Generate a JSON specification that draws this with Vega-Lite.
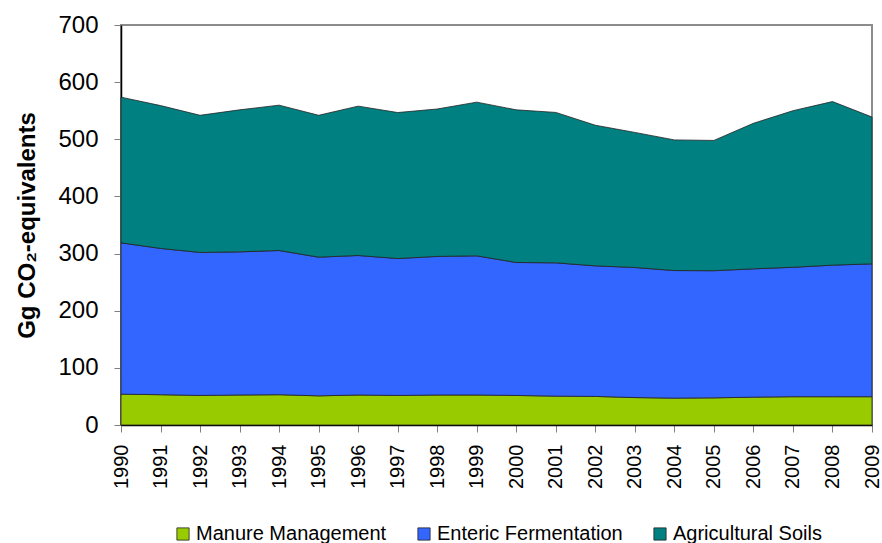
{
  "$schema": "https://vega.github.io/schema/vega-lite/v6.json",
  "width": 751,
  "height": 400,
  "autosize": "none",
  "padding": {"left": 121, "top": 25, "right": 10, "bottom": 118},
  "config": {
    "font": "Liberation Sans",
    "view": {"stroke": "#8c8c8c", "strokeWidth": 2},
    "axis": {"grid": false, "domainColor": "#000000", "domainWidth": 1.5, "tickColor": "#808080", "labelColor": "#000000", "titleColor": "#000000"}
  },
  "data": {
    "values": [
      {"year": 1990, "source": "Manure Management", "o": 1, "v": 54},
      {"year": 1991, "source": "Manure Management", "o": 1, "v": 53},
      {"year": 1992, "source": "Manure Management", "o": 1, "v": 51.7},
      {"year": 1993, "source": "Manure Management", "o": 1, "v": 52.5},
      {"year": 1994, "source": "Manure Management", "o": 1, "v": 53},
      {"year": 1995, "source": "Manure Management", "o": 1, "v": 51},
      {"year": 1996, "source": "Manure Management", "o": 1, "v": 52.5},
      {"year": 1997, "source": "Manure Management", "o": 1, "v": 51.7},
      {"year": 1998, "source": "Manure Management", "o": 1, "v": 52.5},
      {"year": 1999, "source": "Manure Management", "o": 1, "v": 52.5},
      {"year": 2000, "source": "Manure Management", "o": 1, "v": 51.7},
      {"year": 2001, "source": "Manure Management", "o": 1, "v": 50.5},
      {"year": 2002, "source": "Manure Management", "o": 1, "v": 50},
      {"year": 2003, "source": "Manure Management", "o": 1, "v": 48},
      {"year": 2004, "source": "Manure Management", "o": 1, "v": 47},
      {"year": 2005, "source": "Manure Management", "o": 1, "v": 47.5},
      {"year": 2006, "source": "Manure Management", "o": 1, "v": 48.7},
      {"year": 2007, "source": "Manure Management", "o": 1, "v": 49.5},
      {"year": 2008, "source": "Manure Management", "o": 1, "v": 49.5},
      {"year": 2009, "source": "Manure Management", "o": 1, "v": 49.5},
      {"year": 1990, "source": "Enteric Fermentation", "o": 2, "v": 264.8},
      {"year": 1991, "source": "Enteric Fermentation", "o": 2, "v": 256},
      {"year": 1992, "source": "Enteric Fermentation", "o": 2, "v": 250.3},
      {"year": 1993, "source": "Enteric Fermentation", "o": 2, "v": 250.5},
      {"year": 1994, "source": "Enteric Fermentation", "o": 2, "v": 252.4},
      {"year": 1995, "source": "Enteric Fermentation", "o": 2, "v": 242.7},
      {"year": 1996, "source": "Enteric Fermentation", "o": 2, "v": 244.1},
      {"year": 1997, "source": "Enteric Fermentation", "o": 2, "v": 239.6},
      {"year": 1998, "source": "Enteric Fermentation", "o": 2, "v": 242.5},
      {"year": 1999, "source": "Enteric Fermentation", "o": 2, "v": 243.5},
      {"year": 2000, "source": "Enteric Fermentation", "o": 2, "v": 232.7},
      {"year": 2001, "source": "Enteric Fermentation", "o": 2, "v": 233.3},
      {"year": 2002, "source": "Enteric Fermentation", "o": 2, "v": 228.5},
      {"year": 2003, "source": "Enteric Fermentation", "o": 2, "v": 227.6},
      {"year": 2004, "source": "Enteric Fermentation", "o": 2, "v": 223.3},
      {"year": 2005, "source": "Enteric Fermentation", "o": 2, "v": 222.5},
      {"year": 2006, "source": "Enteric Fermentation", "o": 2, "v": 224.6},
      {"year": 2007, "source": "Enteric Fermentation", "o": 2, "v": 226.5},
      {"year": 2008, "source": "Enteric Fermentation", "o": 2, "v": 230.2},
      {"year": 2009, "source": "Enteric Fermentation", "o": 2, "v": 232.5},
      {"year": 1990, "source": "Agricultural Soils", "o": 3, "v": 254.9},
      {"year": 1991, "source": "Agricultural Soils", "o": 3, "v": 250},
      {"year": 1992, "source": "Agricultural Soils", "o": 3, "v": 240},
      {"year": 1993, "source": "Agricultural Soils", "o": 3, "v": 248.5},
      {"year": 1994, "source": "Agricultural Soils", "o": 3, "v": 254.3},
      {"year": 1995, "source": "Agricultural Soils", "o": 3, "v": 248.3},
      {"year": 1996, "source": "Agricultural Soils", "o": 3, "v": 261.4},
      {"year": 1997, "source": "Agricultural Soils", "o": 3, "v": 255.5},
      {"year": 1998, "source": "Agricultural Soils", "o": 3, "v": 258},
      {"year": 1999, "source": "Agricultural Soils", "o": 3, "v": 269},
      {"year": 2000, "source": "Agricultural Soils", "o": 3, "v": 267.1},
      {"year": 2001, "source": "Agricultural Soils", "o": 3, "v": 263.2},
      {"year": 2002, "source": "Agricultural Soils", "o": 3, "v": 246.1},
      {"year": 2003, "source": "Agricultural Soils", "o": 3, "v": 236.4},
      {"year": 2004, "source": "Agricultural Soils", "o": 3, "v": 228.6},
      {"year": 2005, "source": "Agricultural Soils", "o": 3, "v": 228},
      {"year": 2006, "source": "Agricultural Soils", "o": 3, "v": 254.7},
      {"year": 2007, "source": "Agricultural Soils", "o": 3, "v": 274},
      {"year": 2008, "source": "Agricultural Soils", "o": 3, "v": 286.3},
      {"year": 2009, "source": "Agricultural Soils", "o": 3, "v": 257}
    ]
  },
  "mark": {"type": "area", "stroke": "#222222", "strokeWidth": 0.8, "opacity": 1, "fillOpacity": 1},
  "encoding": {
    "x": {
      "field": "year", "type": "quantitative",
      "scale": {"domain": [1990, 2009], "nice": false, "zero": false},
      "axis": {
        "title": null, "values": [1990,1991,1992,1993,1994,1995,1996,1997,1998,1999,2000,2001,2002,2003,2004,2005,2006,2007,2008,2009],
        "format": "d", "labelAngle": 270, "labelAlign": "right", "labelBaseline": "middle",
        "labelFontSize": 20, "tickSize": 7, "labelPadding": 12, "labelOverlap": false, "labelFlush": false
      }
    },
    "y": {
      "field": "v", "type": "quantitative", "stack": "zero",
      "scale": {"domain": [0, 700], "nice": false},
      "axis": {
        "title": "Gg CO₂-equivalents", "values": [0,100,200,300,400,500,600,700],
        "labelFontSize": 24, "tickSize": 7, "labelPadding": 16,
        "titleFontSize": 24, "titleFontWeight": "bold", "titlePadding": 18
      }
    },
    "color": {
      "field": "source", "type": "nominal",
      "scale": {"domain": ["Manure Management", "Enteric Fermentation", "Agricultural Soils"], "range": ["#99CC00", "#3366FF", "#008080"]},
      "legend": {
        "title": null, "orient": "none", "direction": "horizontal", "legendX": 52, "legendY": 499,
        "symbolType": "square", "symbolSize": 150, "symbolStrokeColor": "#222222", "symbolStrokeWidth": 0.8,
        "labelFontSize": 20, "labelLimit": 400, "columnPadding": 27, "labelOffset": 3
      }
    },
    "order": {"field": "o", "type": "quantitative"}
  }
}
